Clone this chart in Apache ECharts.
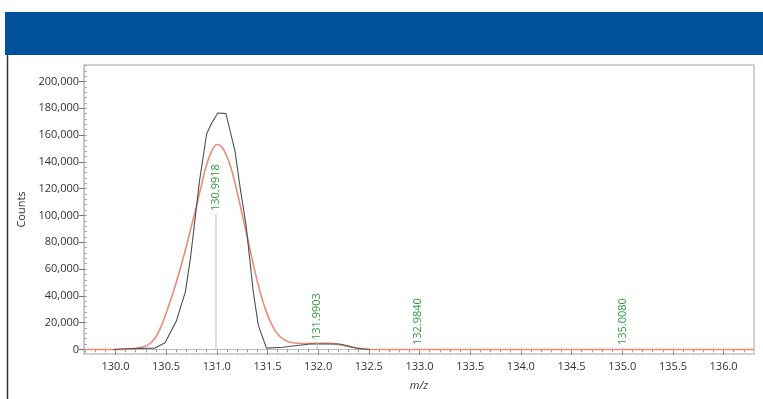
<!DOCTYPE html>
<html>
<head>
<meta charset="utf-8">
<script src="https://cdn.jsdelivr.net/npm/echarts@6/dist/echarts.min.js"></script>
<style>
html,body{margin:0;padding:0;background:#fff;}
#chart{width:763px;height:399px;}
</style>
</head>
<body>
<div id="chart"></div>
<script>
// Measured profile (dark line)
const measuredMz = [129.98,130.10,130.24,130.39,130.49,130.60,130.69,130.74,130.83,130.90,130.95,131.01,131.09,131.18,131.23,131.29,131.36,131.41,131.49,131.65,131.92,132.21,132.38,132.51];
const measuredCounts = [0,500,800,1000,5000,21000,43000,68000,126000,161000,169000,176500,176000,148000,121000,92000,43000,18000,1000,1600,4100,4100,900,0];

// Theoretical profile (red line)
const theoMz = [129.69,130.0,130.1,130.2,130.3,130.35,130.4,130.45,130.5,130.55,130.6,130.65,130.7,130.75,130.8,130.85,130.9,130.95,131.0,131.05,131.1,131.15,131.2,131.25,131.3,131.35,131.4,131.45,131.5,131.55,131.6,131.65,131.7,131.8,131.9,132.0,132.1,132.2,132.3,132.4,132.5,132.7,133.5,134.5,135.5,136.3];
const theoCounts = [0,0,200,700,2500,5000,9500,17000,27000,38000,50000,63000,77000,92000,107000,123000,138000,148000,153000,151000,144000,133000,118000,101000,84000,67000,51000,37000,26000,17500,11500,8000,6000,4600,4400,4600,4500,3800,2300,800,0,0,0,0,0,0];

// Annotated peaks
const peakMz = [130.9918,131.9903,132.9840,135.0080];
const peakHeights = [101000,4800,1000,1000];
const peakLabels = ['130.9918','131.9903','132.9840','135.0080'];

// Axis ticks
const xTicks = [130.0,130.5,131.0,131.5,132.0,132.5,133.0,133.5,134.0,134.5,135.0,135.5,136.0];
const xMinorTicks = [];
for (let i = 0; i <= 65; i++) xMinorTicks.push(+(129.7 + i * 0.1).toFixed(1));
const yTicks = [0,20000,40000,60000,80000,100000,120000,140000,160000,180000,200000];
const yMinorTicks = [];
for (let v = 0; v <= 212000; v += 4000) yMinorTicks.push(v);

const X_MIN = 129.69, X_MAX = 136.3, Y_MIN = -3400, Y_MAX = 212300;
const FONT = 'Open Sans';

const chart = echarts.init(document.getElementById('chart'), null, {renderer:'canvas'});

const option = {
  animation: false,
  backgroundColor: '#fff',
  graphic: [
    {type:'rect', shape:{x:5, y:12, width:758, height:43}, style:{fill:'#00519b'}, z:0},
    {type:'line', shape:{x1:7.5, y1:55, x2:7.5, y2:399}, style:{stroke:'#333', lineWidth:1.5}, z:0}
  ],
  grid: {left:84, top:65, right:9, bottom:45, show:true, borderColor:'#c4c4c4', borderWidth:1.5, containLabel:false},
  xAxis: [
    {
      type:'value', min:X_MIN, max:X_MAX,
      name:'m/z', nameLocation:'middle', nameGap:26,
      nameTextStyle:{fontFamily:FONT, fontSize:11, fontStyle:'italic', color:'#333'},
      axisLine:{show:true, lineStyle:{color:'#bdbdbd', width:1}},
      axisTick:{show:true, customValues:xTicks, length:5, lineStyle:{color:'#777'}},
      axisLabel:{customValues:xTicks, formatter:v=>v.toFixed(1), fontFamily:FONT, fontSize:11, color:'#333', margin:7},
      splitLine:{show:false}
    },
    {
      type:'value', min:X_MIN, max:X_MAX, position:'bottom',
      axisLine:{show:false},
      axisTick:{show:true, customValues:xMinorTicks, length:3, lineStyle:{color:'#999'}},
      axisLabel:{show:false},
      splitLine:{show:false}
    }
  ],
  yAxis: [
    {
      type:'value', min:Y_MIN, max:Y_MAX,
      name:'Counts', nameLocation:'middle', nameGap:49,
      nameTextStyle:{fontFamily:FONT, fontSize:11, color:'#333'},
      axisLine:{show:true, lineStyle:{color:'#bdbdbd', width:1}},
      axisTick:{show:true, customValues:yTicks, length:5, lineStyle:{color:'#777'}},
      axisLabel:{customValues:yTicks, formatter:v=>v.toLocaleString('en-US'), fontFamily:FONT, fontSize:11, color:'#333', margin:5},
      splitLine:{show:false}
    },
    {
      type:'value', min:Y_MIN, max:Y_MAX, position:'left',
      axisLine:{show:false},
      axisTick:{show:true, inside:true, customValues:yMinorTicks, length:3, lineStyle:{color:'#aaa'}},
      axisLabel:{show:false},
      splitLine:{show:false}
    }
  ],
  series: [
    {
      type:'line', name:'Theoretical', xAxisIndex:0, yAxisIndex:0,
      data: theoMz.map((m,i)=>[m, theoCounts[i]]),
      showSymbol:false, smooth:0.35,
      lineStyle:{color:'#ec8b78', width:1.6}, z:3
    },
    {
      type:'line', name:'Measured', xAxisIndex:0, yAxisIndex:0,
      data: measuredMz.map((m,i)=>[m, measuredCounts[i]]),
      showSymbol:false, smooth:false,
      lineStyle:{color:'#505050', width:1.1}, z:4
    },
    {
      type:'custom', name:'Peaks', xAxisIndex:0, yAxisIndex:0,
      data: peakMz.map((m,i)=>[m, peakHeights[i], peakLabels[i]]),
      encode:{x:0, y:1},
      z:5,
      renderItem: function(params, api){
        const base = api.coord([api.value(0), 0]);
        const top = api.coord([api.value(0), api.value(1)]);
        const label = peakLabels[params.dataIndex];
        return {
          type:'group',
          children:[
            {type:'line', shape:{x1:base[0], y1:base[1], x2:top[0], y2:top[1]}, style:{stroke:'#a9c4c4', lineWidth:1}},
            {type:'text', x:top[0], y:top[1]-3, rotation:Math.PI/2,
             style:{text:label, fill:'#2f9a3c', fontFamily:FONT, fontSize:11, align:'left', verticalAlign:'middle'}}
          ]
        };
      }
    }
  ]
};
chart.setOption(option);
</script>
</body>
</html>
